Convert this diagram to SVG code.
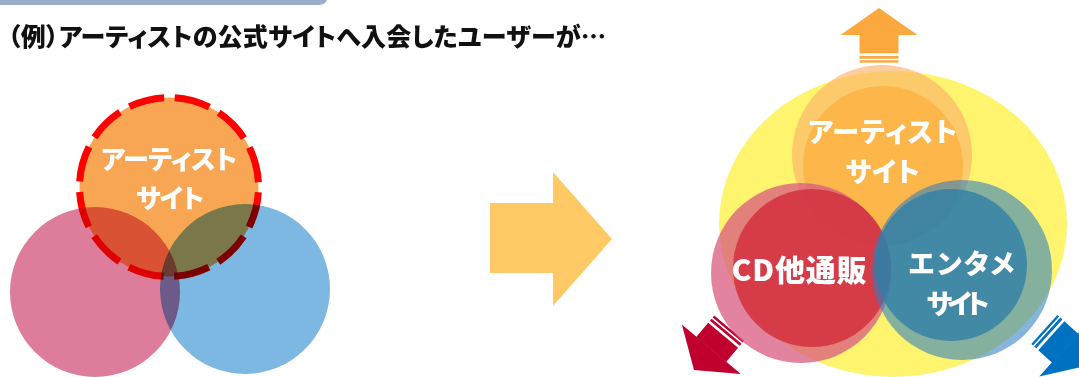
<svg xmlns="http://www.w3.org/2000/svg" width="1079" height="377" viewBox="0 0 1079 377">
<defs>
<style>
text{font-family:"Noto Sans CJK JP","Noto Sans",sans-serif;font-weight:900;font-feature-settings:"palt";}
.lbl{fill:#ffffff;text-anchor:middle;}
.title{fill:#111111;font-size:25px;}
.mul{mix-blend-mode:multiply;}
</style>
<g id="arrowShape">
<polygon points="0,0 -27,-38.5 -27,38.5"/>
<rect x="-45.3" y="-19.5" width="18.6" height="39"/>
<rect x="-50.7" y="-19.5" width="2.7" height="39"/>
<rect x="-54.7" y="-19.5" width="2.4" height="39"/>
</g>
</defs>
<rect width="1079" height="377" fill="#ffffff"/>
<path d="M0,0 H327 Q325,5 318,5 H0 Z" fill="#9AAECA"/>
<text class="title" x="8" y="46" textLength="598" lengthAdjust="spacing">（例）アーティストの公式サイトへ入会したユーザーが…</text>

<g id="left-artist">
<circle cx="169" cy="187" r="89.5" fill="#F9A654"/>
<circle cx="169" cy="187" r="89.5" fill="none" stroke="#FF0000" stroke-width="7" stroke-dasharray="36 10.83" stroke-dashoffset="41.4"/>
</g>
<g id="left-cd">
<circle class="mul" cx="95" cy="292" r="85" fill="#DB7292" opacity="0.92"/>
</g>
<g id="left-entame">
<circle class="mul" cx="245" cy="289" r="85" fill="#72B2E0" opacity="0.92"/>
</g>
<g id="left-artist-label">
<text class="lbl" x="169" y="169" font-size="26" textLength="136" lengthAdjust="spacing">アーティスト</text>
<text class="lbl" x="170" y="208" font-size="26" textLength="68" lengthAdjust="spacing">サイト</text>
</g>

<g id="connectors">
<polygon points="490,203 553,203 553,172 612,239 553,306 553,273 490,273" fill="#FFC966"/>
<use href="#arrowShape" transform="translate(879,8) rotate(-90)" fill="#FBA93E"/>
<use href="#arrowShape" transform="translate(694,370) rotate(130)" fill="#C0002F"/>
<use href="#arrowShape" transform="translate(1085,366) rotate(42)" fill="#0070C0"/>
</g>

<g id="right-base">
<ellipse cx="893" cy="224" rx="174" ry="153" fill="#FFF46E"/>
</g>
<g id="right-artist">
<circle cx="882" cy="155" r="90" fill="#FBB26A" opacity="0.65"/>
<circle cx="883" cy="166" r="80" fill="#FCB446" opacity="0.9"/>
<text class="lbl" x="882.5" y="142" font-size="27" textLength="149" lengthAdjust="spacing">アーティスト</text>
<text class="lbl" x="882.5" y="182" font-size="27" textLength="74" lengthAdjust="spacing">サイト</text>
</g>
<g id="right-cd">
<circle cx="801" cy="273" r="90" fill="#D85A80" opacity="0.75"/>
<circle cx="812" cy="268" r="79" fill="#D2303F" opacity="0.85"/>
</g>
<g id="right-entame">
<circle cx="962" cy="270" r="90" fill="#2C80C0" opacity="0.58"/>
<circle cx="951" cy="265" r="76" fill="#2F7FA8" opacity="0.8"/>
</g>
<g id="right-labels">
<text class="lbl" x="799" y="281" font-size="30" textLength="135" lengthAdjust="spacing">CD他通販</text>
<text class="lbl" x="961.5" y="274" font-size="27" textLength="106" lengthAdjust="spacing">エンタメ</text>
<text class="lbl" x="958" y="314" font-size="27" textLength="63" lengthAdjust="spacing">サイト</text>
</g>
</svg>
